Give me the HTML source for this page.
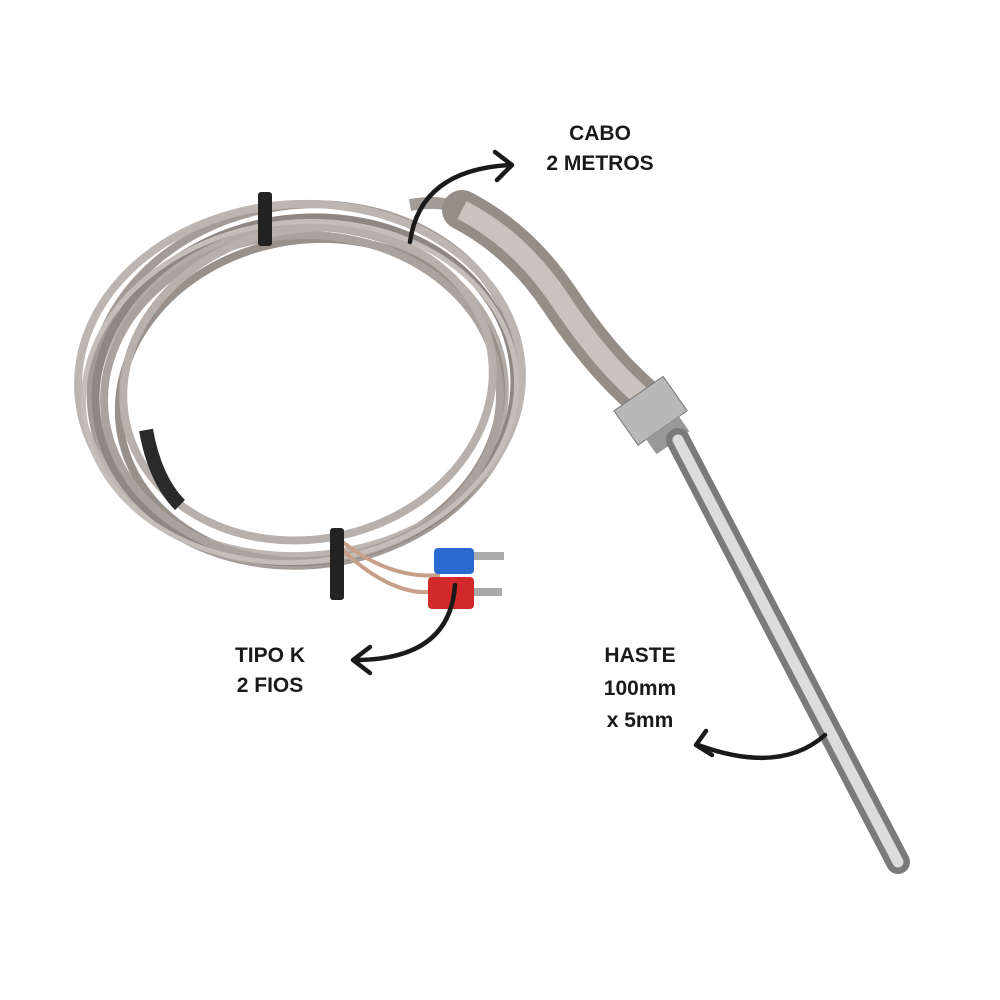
<!DOCTYPE html>
<html><head><meta charset="utf-8"><style>
html,body{margin:0;padding:0;background:#fff;}
svg{display:block}
text{font-family:"Liberation Sans",sans-serif;font-weight:bold;fill:#1a1a1a;font-size:21px;text-anchor:middle}
</style></head><body>
<svg width="1000" height="1000" viewBox="0 0 1000 1000">
<!-- coiled cable -->
<g fill="none" stroke-width="8">
<ellipse cx="305" cy="385" rx="215" ry="180" transform="rotate(-8 305 385)" stroke="#a39c96"/>
<ellipse cx="300" cy="395" rx="205" ry="168" transform="rotate(-5 300 395)" stroke="#b3aca6"/>
<ellipse cx="310" cy="400" rx="192" ry="160" transform="rotate(-10 310 400)" stroke="#999189"/>
<ellipse cx="300" cy="380" rx="222" ry="176" transform="rotate(-3 300 380)" stroke="#bdb6b0"/>
<ellipse cx="305" cy="390" rx="210" ry="172" transform="rotate(-7 305 390)" stroke="#8f8882"/>
<ellipse cx="302" cy="398" rx="198" ry="163" transform="rotate(-2 302 398)" stroke="#aaa39d"/>
<ellipse cx="308" cy="384" rx="186" ry="155" transform="rotate(-12 308 384)" stroke="#b8b1ab"/>
<ellipse cx="300" cy="392" rx="217" ry="170" transform="rotate(-6 300 392)" stroke="#c4beb8" stroke-width="5"/>
<path d="M410 205 Q450 198 470 215" stroke="#a39c96" stroke-width="12"/>
<path d="M340 540 Q390 580 440 575" stroke="#c8a08a" stroke-width="4"/>
<path d="M340 548 Q390 595 430 592" stroke="#c8a08a" stroke-width="4"/>
</g>
<path d="M146 430 Q155 480 180 505" stroke="#2a2a2a" stroke-width="14" fill="none"/>
<rect x="258" y="192" width="14" height="54" fill="#222" rx="3"/>
<rect x="330" y="528" width="14" height="72" fill="#222" rx="3"/>
<!-- terminals -->
<rect x="434" y="548" width="40" height="26" rx="4" fill="#2a6ad0"/>
<rect x="428" y="577" width="46" height="32" rx="4" fill="#d22a2a"/>
<path d="M474 556 h30 M474 592 h28" stroke="#aaa" stroke-width="8"/>
<!-- probe sleeve -->
<path d="M462 210 Q520 240 560 300 Q600 360 640 395" stroke="#958e87" stroke-width="40" fill="none" stroke-linecap="round"/>
<path d="M462 210 Q520 240 560 300 Q600 360 640 395" stroke="#c9c3bd" stroke-width="20" fill="none"/>
<!-- nut -->
<g transform="rotate(-35 650 410)">
<rect x="620" y="390" width="60" height="42" fill="#b8b8b8" stroke="#777"/>
<rect x="630" y="432" width="40" height="18" fill="#999"/>
</g>
<!-- rod -->
<path d="M678 440 L898 862" stroke="#7a7a7a" stroke-width="24" stroke-linecap="round"/>
<path d="M678 440 L898 862" stroke="#dcdcdc" stroke-width="11" stroke-linecap="round"/>
<!-- arrows -->
<g fill="none" stroke="#1a1a1a" stroke-width="4.5" stroke-linecap="round" stroke-linejoin="round">
<path d="M410 242 Q420 170 510 165"/><path d="M495 152 L512 165 L497 180"/>
<path d="M455 585 Q450 660 355 660"/><path d="M370 647 L353 660 L370 673"/>
<path d="M825 735 Q780 775 698 745"/><path d="M706 731 L696 745 L712 755"/>
</g>
<text x="600" y="140">CABO</text>
<text x="600" y="170">2 METROS</text>
<text x="270" y="662">TIPO K</text>
<text x="270" y="692">2 FIOS</text>
<text x="640" y="662">HASTE</text>
<text x="640" y="695">100mm</text>
<text x="640" y="727">x 5mm</text>
</svg>
</body></html>
